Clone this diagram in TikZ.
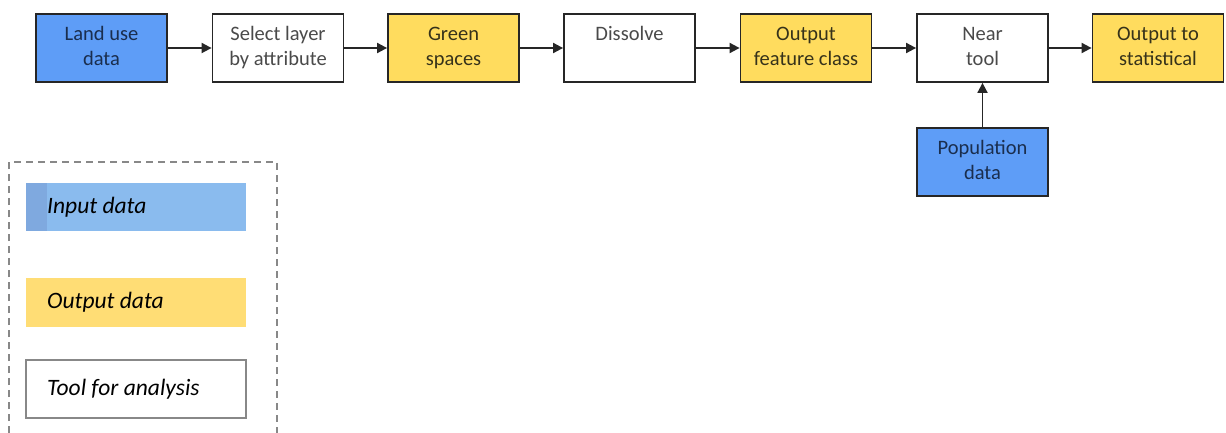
\documentclass[tikz,border=0pt]{standalone}
\usepackage{fontspec}
\setmainfont{Carlito}
\usetikzlibrary{arrows.meta}
\definecolor{inblue}{HTML}{5E9DF7}
\definecolor{outyel}{HTML}{FFDC5E}
\definecolor{boxline}{HTML}{262626}
\definecolor{navytxt}{HTML}{1A2E4E}
\definecolor{olivetxt}{HTML}{36321A}
\definecolor{greytxt}{HTML}{4A4A4A}
\definecolor{leginblue}{HTML}{8ABBEE}
\definecolor{leginstrip}{HTML}{7FA9DF}
\definecolor{legyel}{HTML}{FFDD75}
\definecolor{legline}{HTML}{888888}
\newcommand{\upshift}{\rule[-4pt]{0pt}{0pt}}
\begin{document}
\begin{tikzpicture}[x=1pt,y=-1pt,
  flowbox/.style={draw=boxline, line width=1.8pt, minimum width=131pt, minimum height=68pt,
    inner sep=0pt, align=center, font=\fontsize{20.5}{25}\selectfont},
  inbox/.style={flowbox, fill=inblue, text=navytxt},
  outbox/.style={flowbox, fill=outyel, text=olivetxt},
  toolbox/.style={flowbox, fill=white, text=greytxt},
  arr/.style={line width=1.8pt, draw=black!85, -{Triangle[length=10pt,width=10pt]}},
  legtxt/.style={anchor=west, inner sep=0pt, font=\fontsize{23.5}{28}\selectfont\itshape, text=black}
]
\useasboundingbox (0,0) rectangle (1226,433);

\node[inbox]   (land)  at (101.5,48) {Land use\\data\upshift};
\node[toolbox] (sel)   at (278,48)   {Select layer\\by attribute\upshift};
\node[outbox]  (green) at (453.5,48) {Green\\spaces\upshift};
\node[toolbox] (diss)  at (629.5,48) {Dissolve\\\mbox{}\upshift};
\node[outbox]  (feat)  at (806,48)   {Output\\feature class\upshift};
\node[toolbox] (near)  at (982.5,48) {Near\\tool\upshift};
\node[outbox]  (stat)  at (1158,48)  {Output to\\statistical\upshift};
\node[inbox]   (pop)   at (982.5,162) {Population\\data\upshift};

\draw[arr] (land) -- (sel);
\draw[arr] (sel) -- (green);
\draw[arr] (green) -- (diss);
\draw[arr] (diss) -- (feat);
\draw[arr] (feat) -- (near);
\draw[arr] (near) -- (stat);
\draw[arr] (pop) -- (near);

% legend
\draw[legline, line width=1.3pt, dash pattern=on 7pt off 5pt] (9,433) -- (9,162) -- (277,162) -- (277,433);
\fill[leginblue] (26,183) rectangle (246,231);
\fill[leginstrip] (26,183) rectangle (47,231);
\fill[legyel] (26,278) rectangle (246,327);
\draw[legline, line width=1.3pt, fill=white] (26,360) rectangle (246,418);
\node[legtxt] (lin)  at (47,207)   {Input data};
\node[legtxt] (lout) at (47,302.5) {Output data};
\node[legtxt] (ltool) at (47,389)  {Tool for analysis};
\end{tikzpicture}
\end{document}
